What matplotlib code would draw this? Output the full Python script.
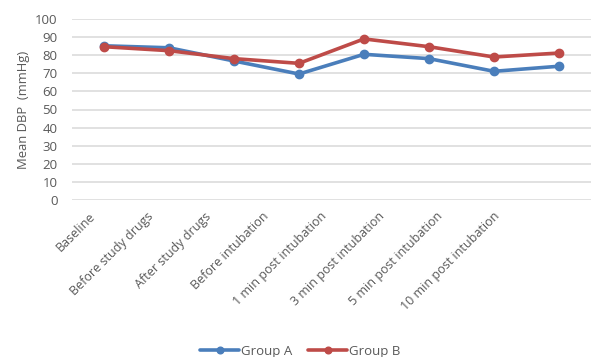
import matplotlib
matplotlib.use("Agg")
import matplotlib.pyplot as plt

categories = ["Baseline", "Before study drugs", "After study drugs", "Before intubation",
              "1 min post intubation", "3 min post intubation", "5 min post intubation",
              "10 min post intubation"]
group_a = [85.2, 84.1, 76.8, 69.6, 80.5, 78.1, 71.1, 73.9]
group_b = [84.7, 82.5, 78.1, 75.5, 89.0, 84.7, 79.0, 81.2]
yticks = [0, 10, 20, 30, 40, 50, 60, 70, 80, 90, 100]

text_color = "#595959"
plt.rcParams["font.family"] = ["Open Sans", "DejaVu Sans"]

fig = plt.figure(figsize=(5.91, 3.57), dpi=100)
ax = fig.add_axes([71.5 / 591, 1 - 200 / 357, 520 / 591, 181 / 357])

x = list(range(len(categories)))
ax.plot(x, group_a, color="#4A7EBB", lw=2.6, marker="o", ms=6, label="Group A",
        solid_capstyle="round", zorder=3)
ax.plot(x, group_b, color="#BE4B48", lw=2.6, marker="o", ms=6, label="Group B",
        solid_capstyle="round", zorder=3)

ax.set_xlim(-0.5, len(categories) - 0.5)
ax.set_ylim(0, 100)
ax.set_yticks(yticks)
ax.yaxis.grid(True, color="#D9D9D9", lw=1.1)
ax.set_axisbelow(True)
for s in ax.spines.values():
    s.set_visible(False)
ax.tick_params(axis="both", length=0, colors=text_color)
ax.tick_params(axis="y", pad=10, labelsize=9.5)

# category labels sit on a slightly tighter pitch than the data points
label_pitch = 0.889
label_shift = -0.23
ax.set_xticks([label_shift + label_pitch * i for i in x])
ax.set_xticklabels(categories, rotation=45, ha="right", va="top",
                   rotation_mode="anchor", fontsize=9)
for lab in ax.get_xticklabels():
    lab.set_color(text_color)
ax.tick_params(axis="x", pad=7)

ax.set_ylabel("Mean DBP  (mmHg)", color=text_color, fontsize=9.4, labelpad=4)

ax.legend(loc="center", bbox_to_anchor=(300 / 591, 6 / 357), bbox_transform=fig.transFigure,
          ncol=2, frameon=False, fontsize=9.5, handlelength=3.0, columnspacing=1.2,
          handletextpad=0.1, labelcolor=text_color, markerscale=0.8)

fig.savefig("out.png", dpi=100)
